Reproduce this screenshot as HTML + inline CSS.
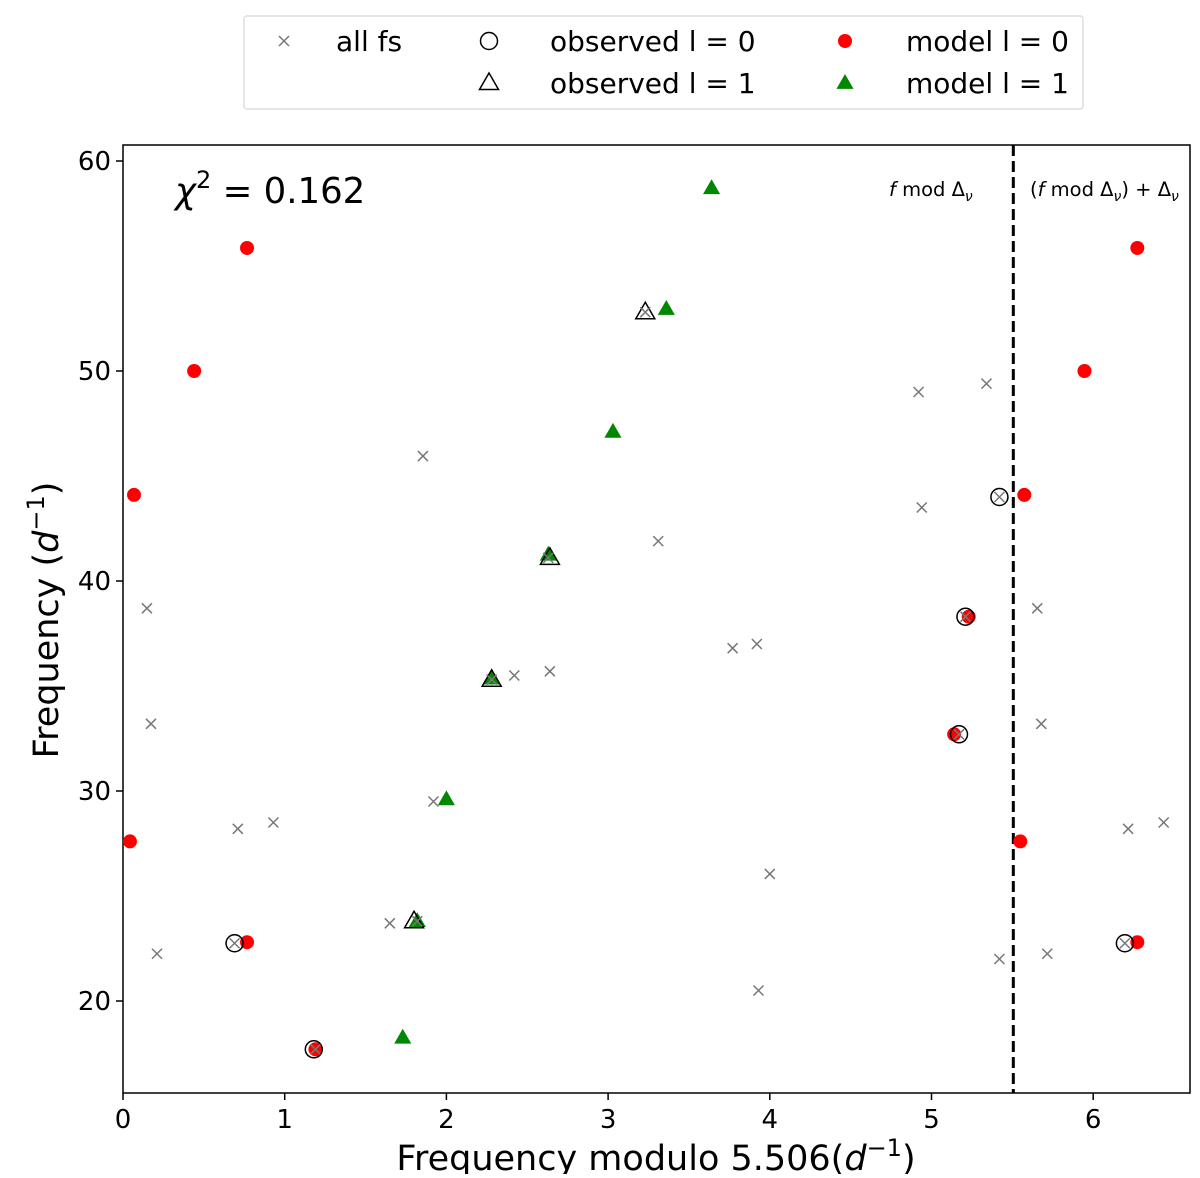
<!DOCTYPE html>
<html><head><meta charset="utf-8"><style>
body{margin:0;background:#fff;font-family:"DejaVu Sans","Liberation Sans",sans-serif}
svg text{font-family:"DejaVu Sans","Liberation Sans",sans-serif}
</style></head><body>
<svg id="chart" width="1200" height="1174" xmlns="http://www.w3.org/2000/svg"></svg>
<script>
const DNU = 5.506;
const allX = [1.855,0.148,0.173,0.71,0.93,0.21,0.69,1.19,1.65,1.82,1.92,2.28,2.42,2.64,2.63,3.31,3.23,3.77,3.92,4.0,3.93,4.92,4.94,5.34,5.42,5.21,5.17,5.42];
const allY = [45.95,38.7,33.2,28.2,28.5,22.25,22.75,17.7,23.7,23.8,29.5,35.3,35.5,35.7,41.1,41.9,52.8,36.8,37.0,26.05,20.5,49.0,43.5,49.4,44.0,38.3,32.7,22.0];
const obs0X = [0.69,1.18,5.21,5.17,5.42];
const obs0Y = [22.75,17.7,38.3,32.7,44.0];
const obs1X = [3.23,2.64,2.28,1.80];
const obs1Y = [52.8,41.1,35.3,23.8];
const mod0X = [0.767,0.44,0.068,5.23,5.14,0.043,0.767,1.19];
const mod0Y = [55.86,50,44.1,38.3,32.7,27.6,22.8,17.7];
const mod1X = [3.64,3.36,3.03,2.63,2.28,2.0,1.82,1.73];
const mod1Y = [58.7,52.95,47.1,41.25,35.35,29.6,23.8,18.25];
const xTicks = [0,1,2,3,4,5,6];
const yTicks = [20,30,40,50,60];

const L=123,R=1190,T=145,B=1093, XMIN=0,XMAX=6.6;
const sx=v=>L+(v-XMIN)*161.7;
const sy=v=>161+(60-v)*21;
const svg=document.getElementById('chart');
const NS='http://www.w3.org/2000/svg';
function mk(tag,attrs,parent){const e=document.createElementNS(NS,tag);for(const k in attrs)e.setAttribute(k,attrs[k]);(parent||svg).appendChild(e);return e;}

let fr=mk('rect',{x:L,y:T,width:R-L,height:B-T,fill:'none',stroke:'#000','stroke-width':1.5});



xTicks.forEach(t=>{const x=sx(t);
 mk('line',{x1:x,x2:x,y1:B,y2:B+7,stroke:'#000','stroke-width':1.5});
 const tx=mk('text',{x:x,y:B+35,'font-size':26,'text-anchor':'middle'});tx.textContent=t;
 
 
});
yTicks.forEach(t=>{const y=sy(t);
 mk('line',{x1:L-7,x2:L,y1:y,y2:y,stroke:'#000','stroke-width':1.5});
 const tx=mk('text',{x:L-12,y:y+9,'font-size':26,'text-anchor':'end'});tx.textContent=t;
 
 
});

let xt=mk('text',{x:656,y:1170,'font-size':35,'text-anchor':'middle'});
xt.innerHTML='Frequency modulo 5.506(<tspan font-style="italic">d</tspan><tspan dy="-14" font-size="24">−1</tspan><tspan dy="14">)</tspan>';


let yt=mk('text',{x:0,y:0,'font-size':35,'text-anchor':'middle',transform:'translate(58,620) rotate(-90)'});
yt.innerHTML='Frequency (<tspan font-style="italic">d</tspan><tspan dy="-14" font-size="24">−1</tspan><tspan dy="14">)</tspan>';



let dl=mk('line',{x1:sx(DNU),x2:sx(DNU),y1:T,y2:B,stroke:'#000','stroke-width':3,'stroke-dasharray':'11,5'});



let chi=mk('text',{x:175,y:203,'font-size':35.5});
chi.innerHTML='<tspan font-style="italic">χ</tspan><tspan dy="-15" font-size="24">2</tspan><tspan dy="15"> =  0.162</tspan>';


let l1=mk('text',{x:889,y:196,'font-size':19.5});
l1.innerHTML='<tspan font-style="italic">f</tspan> mod Δ<tspan font-style="italic" dy="5" font-size="14">ν</tspan>';


let l2=mk('text',{x:1030,y:196,'font-size':19.5});
l2.innerHTML='(<tspan font-style="italic">f</tspan> mod Δ<tspan font-style="italic" dy="5" font-size="14">ν</tspan><tspan dy="-5">) + Δ</tspan><tspan font-style="italic" dy="5" font-size="14">ν</tspan>';



const g=mk('g',{});
function cross(x,y,p){mk('path',{d:`M${x-5},${y-5}L${x+5},${y+5}M${x-5},${y+5}L${x+5},${y-5}`,stroke:'#777','stroke-width':1.5,fill:'none'},p);}
function circ(x,y,p,fill,stroke,r){mk('circle',{cx:x,cy:y,r:r,fill:fill,stroke:stroke,'stroke-width':1.5},p);}
function tri(x,y,p,fill,stroke,s){mk('path',{d:`M${x},${y-s}L${x+s*0.95},${y+s*0.65}L${x-s*0.95},${y+s*0.65}Z`,fill:fill,stroke:stroke,'stroke-width':1.5},p);}
function plot(X,Y,mirror,draw,name){
 X.forEach((xv,i)=>{[xv].concat(mirror?[xv+DNU]:[]).forEach(v=>{
  if(v<XMIN||v>XMAX)return;
  const grp=mk('g',{},g);
  
  
  draw(sx(v),sy(Y[i]),grp);});});
}
plot(mod0X,mod0Y,true,(x,y,p)=>circ(x,y,p,'#f00','none',7),'model-l0-point');
plot(mod1X,mod1Y,false,(x,y,p)=>tri(x,y,p,'#080','none',9),'model-l1-point');
plot(obs0X,obs0Y,true,(x,y,p)=>circ(x,y,p,'none','#000',8.5),'observed-l0-point');
plot(obs1X,obs1Y,false,(x,y,p)=>tri(x,y,p,'none','#000',10),'observed-l1-point');
plot(allX,allY,true,(x,y,p)=>cross(x,y,p),'all-fs-point');

const lg=mk('g',{});


mk('rect',{x:244,y:16,width:839,height:93,fill:'#fff',stroke:'#ddd','stroke-width':1.5,rx:3},lg);
function entry(mx,my,draw,text,tx,name){const e=mk('g',{},lg);
 
 
 draw(mx,my,e);const t=mk('text',{x:tx,y:my+10,'font-size':28},e);t.textContent=text;}
entry(284,41,cross,'all fs',336,'legend-all-fs');
entry(489,41,(x,y,p)=>circ(x,y,p,'none','#000',8.5),'observed l = 0',550,'legend-observed-l0');
entry(845,41,(x,y,p)=>circ(x,y,p,'#f00','none',7),'model l = 0',906,'legend-model-l0');
entry(489,83,(x,y,p)=>tri(x,y,p,'none','#000',10),'observed l = 1',550,'legend-observed-l1');
entry(845,83,(x,y,p)=>tri(x,y,p,'#080','none',9),'model l = 1',906,'legend-model-l1');
</script>
</body></html>
